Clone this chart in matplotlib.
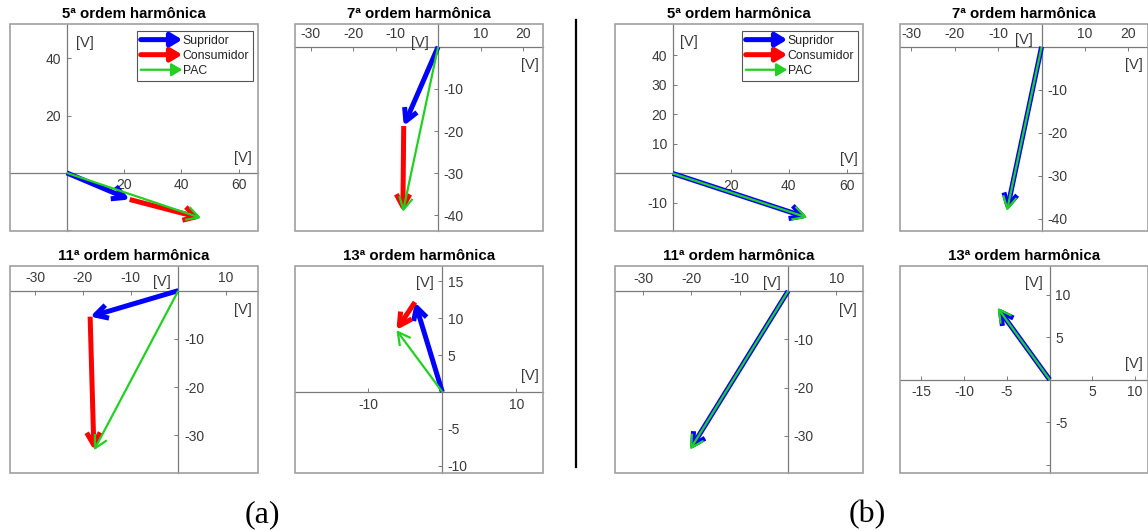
import matplotlib
matplotlib.use("Agg")
import matplotlib.pyplot as plt
from matplotlib.patches import FancyArrowPatch, Rectangle
from matplotlib.legend_handler import HandlerBase
from matplotlib.lines import Line2D

plt.rcParams['font.family'] = ['Liberation Sans', 'DejaVu Sans']

# Harmonic orders shown in each column pair
orders = ['5ª', '7ª', '11ª', '13ª']
series_names = ['Supridor', 'Consumidor', 'PAC']

# Phasors [V] (real, imaginary) — case (a)
supridor_a = [(22.0, -9.3), (-8.1, -18.8), (-18.5, -5.4), (-3.7, 12.2)]
consumidor_a = [(25.0, -6.5), (-0.2, -20.4), (0.8, -27.7), (-2.5, -3.8)]
pac_a = [(47.0, -15.8), (-8.3, -39.2), (-17.7, -33.1), (-6.2, 8.4)]

# Phasors [V] — case (b)
supridor_b = [(46.5, -15.0), (-8.0, -38.2), (-20.3, -32.9), (-6.1, 8.5)]
consumidor_b = [(0.0, 0.0), (0.0, 0.0), (0.0, 0.0), (0.0, 0.0)]
pac_b = [(46.5, -15.0), (-8.0, -38.2), (-20.3, -32.9), (-6.1, 8.5)]

# Axis limits per order, case (a) then case (b)
xlims_a = [(-19.8, 66.8), (-33.7, 24.7), (-35.3, 16.7), (-19.9, 13.6)]
ylims_a = [(-20.3, 52.0), (-43.7, 5.4), (-37.8, 5.1), (-11.0, 17.1)]
xlims_b = [(-19.9, 65.6), (-32.6, 24.5), (-35.8, 15.5), (-17.5, 11.5)]
ylims_b = [(-19.5, 50.6), (-42.8, 5.3), (-37.7, 5.2), (-11.0, 13.4)]

# Tick values and labels
xticks_a = [[20, 40, 60], [-30, -20, -10, 10, 20], [-30, -20, -10, 10], [-10, 10]]
yticks_a = [[-20, 20, 40], [-40, -30, -20, -10], [-30, -20, -10], [-10, -5, 5, 10, 15]]
ylabels_a = [['', '20', '40'], ['-40', '-30', '-20', '-10'], ['-30', '-20', '-10'],
             ['-10', '-5', '5', '10', '15']]
xticks_b = [[20, 40, 60], [-30, -20, -10, 10, 20], [-30, -20, -10, 10], [-15, -10, -5, 5, 10]]
yticks_b = [[-10, 10, 20, 30, 40], [-40, -30, -20, -10], [-30, -20, -10], [-10, -5, 5, 10]]
ylabels_b = [['-10', '10', '20', '30', '40'], ['-40', '-30', '-20', '-10'], ['-30', '-20', '-10'],
             ['', '-5', '5', '10']]

# Side of the origin axis where tick labels sit
xside = ['bottom', 'top', 'top', 'bottom']
yside = ['left', 'right', 'right', 'right']

# Unit label anchors (data coords): y-axis unit, x-axis unit
yunit_a = [(6.3, 45.3), (-4.3, 0.8), (-3.5, 1.7), (-2.3, 14.8)]
xunit_a = [(61.6, 5.3), (21.5, -4.3), (13.5, -4.0), (11.8, 2.1)]
yunit_b = [(5.6, 44.6), (-4.0, 1.5), (-3.4, 1.7), (-1.8, 11.4)]
xunit_b = [(60.6, 4.9), (21.3, -4.3), (12.4, -3.9), (9.8, 1.8)]

BLUE, RED, GREEN = '#0000ff', '#ff0000', '#22d022'
LW_THICK, LW_THIN = 3.6, 1.6
TXT = '#3a3a3a'
AX_COL = '#7a7a7a'

W, H = 1148, 531
fig = plt.figure(figsize=(W / 100, H / 100), dpi=100)

col_left = [10, 295, 615, 900]
row_top = [24, 266]
AW, AH = 248, 207


def make_axes(col, row):
    l, t = col_left[col], row_top[row]
    return fig.add_axes([l / W, 1 - (t + AH) / H, AW / W, AH / H])


def arrow(ax, start, vec, color, lw):
    if vec[0] == 0 and vec[1] == 0:
        return
    end = (start[0] + vec[0], start[1] + vec[1])
    ax.annotate('', xy=end, xytext=start, annotation_clip=False,
                arrowprops=dict(arrowstyle='->,head_length=0.5,head_width=0.27',
                                color=color, lw=lw, shrinkA=0, shrinkB=0,
                                mutation_scale=18, joinstyle='round',
                                capstyle='butt'))


class ArrowHandler(HandlerBase):
    def create_artists(self, legend, orig_handle, xdescent, ydescent,
                       width, height, fontsize, trans):
        y = height / 2 - ydescent
        a = FancyArrowPatch((-xdescent, y), (-xdescent + width, y),
                            arrowstyle='-|>,head_length=0.5,head_width=0.3',
                            mutation_scale=13, lw=orig_handle.get_linewidth(),
                            color=orig_handle.get_color(), shrinkA=0, shrinkB=0,
                            transform=trans)
        return [a]


def draw_panel(ax, i, sup, con, pac, xlim, ylim, xt, yt, ylab, yunit, xunit, legend=False):
    ax.set_xlim(*xlim)
    ax.set_ylim(*ylim)
    for s in ax.spines.values():
        s.set_visible(False)
    xs, ys = xside[i], yside[i]
    ax.spines[xs].set_visible(True)
    ax.spines[xs].set_position(('data', 0))
    ax.spines[ys].set_visible(True)
    ax.spines[ys].set_position(('data', 0))
    for s in (xs, ys):
        ax.spines[s].set_color(AX_COL)
        ax.spines[s].set_linewidth(0.9)
    ax.xaxis.set_ticks_position(xs)
    ax.yaxis.set_ticks_position(ys)
    ax.set_xticks(xt)
    ax.set_xticklabels([str(v) for v in xt])
    ax.set_yticks(yt)
    ax.set_yticklabels(ylab)
    ax.tick_params(direction='in', length=3, width=0.7, color=AX_COL,
                   labelcolor=TXT, labelsize=10, pad=4)
    ax.add_patch(Rectangle((0, 0), 1, 1, transform=ax.transAxes, fill=False,
                           edgecolor='#a0a0a0', lw=1.2, clip_on=False, zorder=5))
    ax.set_title(f'{orders[i]} ordem harmônica', fontsize=10.8, fontweight='bold',
                 color='black', pad=4)
    ax.text(*yunit, '[V]', ha='center', va='center', fontsize=10.5, color=TXT)
    ax.text(*xunit, '[V]', ha='center', va='center', fontsize=10.5, color=TXT)

    s = sup[i]
    c = con[i]
    arrow(ax, (0, 0), s, BLUE, LW_THICK)
    arrow(ax, s, c, RED, LW_THICK)
    arrow(ax, (0, 0), pac[i], GREEN, LW_THIN)

    if legend:
        handles = [Line2D([], [], color=BLUE, lw=LW_THICK),
                   Line2D([], [], color=RED, lw=LW_THICK),
                   Line2D([], [], color=GREEN, lw=LW_THIN)]
        leg = ax.legend(handles, series_names, loc='upper right',
                        bbox_to_anchor=(0.98, 0.965), fontsize=8.8,
                        handler_map={Line2D: ArrowHandler()},
                        handlelength=3.4, handletextpad=0.05, labelspacing=0.25,
                        borderpad=0.3, borderaxespad=0, fancybox=False,
                        framealpha=1, edgecolor='#555555')
        leg.get_frame().set_linewidth(0.8)
        for t in leg.get_texts():
            t.set_color('#222222')


positions = [(0, 0), (1, 0), (0, 1), (1, 1)]
for i, (c, r) in enumerate(positions):
    ax = make_axes(c, r)
    draw_panel(ax, i, supridor_a, consumidor_a, pac_a, xlims_a[i], ylims_a[i],
               xticks_a[i], yticks_a[i], ylabels_a[i], yunit_a[i], xunit_a[i],
               legend=(i == 0))
for i, (c, r) in enumerate(positions):
    ax = make_axes(c + 2, r)
    draw_panel(ax, i, supridor_b, consumidor_b, pac_b, xlims_b[i], ylims_b[i],
               xticks_b[i], yticks_b[i], ylabels_b[i], yunit_b[i], xunit_b[i],
               legend=(i == 0))

# Separator between the two cases
fig.add_artist(Line2D([575.7 / W, 575.7 / W], [1 - 20 / H, 1 - 466.7 / H],
                      color='black', lw=1.6))

fig.text(262 / W, 1 - 515 / H, '(a)', family='Liberation Serif', fontsize=23,
         ha='center', va='center')
fig.text(867 / W, 1 - 515 / H, '(b)', family='Liberation Serif', fontsize=23,
         ha='center', va='center')

fig.savefig('out.png', dpi=100)
